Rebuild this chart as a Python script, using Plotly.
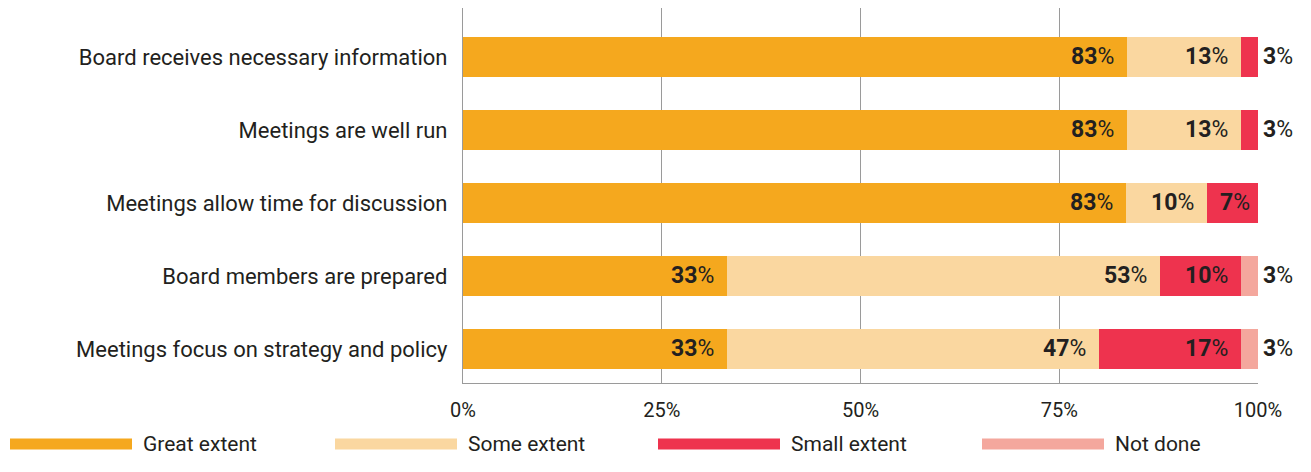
import plotly.graph_objects as go

categories = [
    "Board receives necessary information",
    "Meetings are well run",
    "Meetings allow time for discussion",
    "Board members are prepared",
    "Meetings focus on strategy and policy",
]
series_names = ["Great extent", "Some extent", "Small extent", "Not done"]
great = [83.5, 83.5, 83.4, 33.2, 33.2]
some = [14.4, 14.4, 10.2, 54.5, 46.8]
small = [2.1, 2.1, 6.4, 10.2, 17.9]
not_done = [0, 0, 0, 2.1, 2.1]
great_lbl = ["83", "83", "83", "33", "33"]
some_lbl = ["13", "13", "10", "53", "47"]
small_lbl = ["3", "3", "7", "10", "17"]
not_lbl = ["", "", "", "3", "3"]
tick_vals = [0, 25, 50, 75, 100]
tick_text = ["0%", "25%", "50%", "75%", "100%"]

colors = ["#F5A81E", "#FAD7A0", "#EE334E", "#F4A79D"]
values = [great, some, small, not_done]
labels = [great_lbl, some_lbl, small_lbl, not_lbl]
TXT = "#231F20"
FONT = "Roboto"
GRID = "#9a9a9a"

W, H = 1311, 472
L, R, T, B = 463, 53, 8, 89
PW, PH = W - L - R, H - T - B

fig = go.Figure()
ys = list(range(len(categories)))
for name, vals, col in zip(series_names, values, colors):
    fig.add_trace(go.Bar(
        y=ys, x=vals, name=name, orientation="h",
        marker=dict(color=col, line=dict(width=0)),
        width=0.56, hoverinfo="skip", showlegend=False,
    ))

annotations = []
for i in range(len(categories)):
    cum = 0
    for vals, lbls in zip(values, labels):
        v = vals[i]
        cum += v
        if not lbls[i] or v == 0:
            continue
        text = "<b>%s</b>%%" % lbls[i]
        if v < 5:
            annotations.append(dict(x=100, y=i, xref="x", yref="y", text=text,
                                    showarrow=False, xanchor="left", xshift=3,
                                    font=dict(family=FONT, size=23, color=TXT)))
        else:
            shift = -6 if round(cum, 6) >= 100 else -11
            annotations.append(dict(x=min(round(cum, 6), 100), y=i, xref="x", yref="y", text=text,
                                    showarrow=False, xanchor="right", xshift=shift,
                                    font=dict(family=FONT, size=23, color=TXT)))

# custom legend (long line swatches)
leg_x = [10, 335, 658, 982]
leg_y = 444
for name, col, lx in zip(series_names, colors, leg_x):
    x0 = (lx - L) / PW
    x1 = (lx + 122 - L) / PW
    yc = (H - B - leg_y) / PH
    fig.add_shape(type="line", xref="paper", yref="paper", x0=x0, x1=x1, y0=yc, y1=yc,
                  line=dict(color=col, width=11))
    annotations.append(dict(x=(lx + 131 - L) / PW, y=yc, xref="paper", yref="paper",
                            text=name, showarrow=False, xanchor="left", yanchor="middle",
                            font=dict(family=FONT, size=21, color=TXT)))

fig.update_layout(
    width=W, height=H,
    margin=dict(l=L, r=R, t=T, b=B, pad=0),
    barmode="stack", bargap=0,
    plot_bgcolor="white", paper_bgcolor="white",
    annotations=annotations,
    font=dict(family=FONT, color=TXT),
)
fig.update_xaxes(
    range=[0, 100], tickvals=tick_vals, ticktext=tick_text,
    showgrid=True, gridcolor=GRID, gridwidth=1.3,
    zeroline=False, showline=True, linecolor=GRID, linewidth=1.3,
    ticks="", tickfont=dict(family=FONT, size=20, color=TXT),
    ticklabelstandoff=9, fixedrange=True,
)
fig.update_yaxes(
    tickmode="array", tickvals=ys, ticktext=categories,
    range=[4.466, -0.671], showgrid=False, zeroline=False,
    showline=True, linecolor=GRID, linewidth=1.3,
    ticks="", tickfont=dict(family=FONT, size=22, color=TXT),
    ticklabelstandoff=10, fixedrange=True,
)
fig.write_html("out.html")
